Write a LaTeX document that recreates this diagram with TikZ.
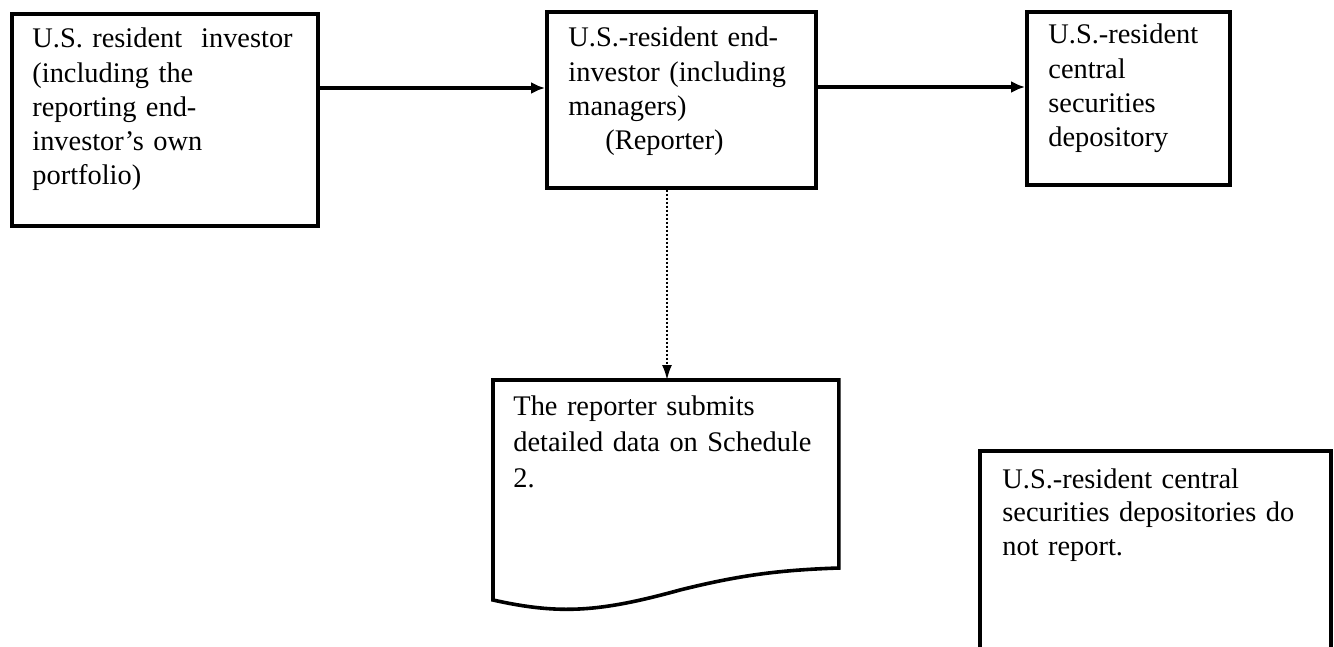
\documentclass[tikz,border=0pt]{standalone}
\usepackage{fontspec}
\setmainfont{Liberation Serif}
\usetikzlibrary{arrows.meta}
\begin{document}
\begin{tikzpicture}[x=0.5pt,y=-0.5pt,
  boxshape/.style={draw,line width=1.8pt,rectangle,inner sep=0pt},
  txt/.style={anchor=base west,inner sep=0pt,align=left,text width=#1,font=\fontsize{14.2}{17.1}\selectfont},
  flow/.style={line width=1.6pt,-{Latex[length=7pt,width=6pt]}},
  dotflow/.style={line width=1pt,densely dotted,-{Latex[length=7.5pt,width=5pt]}}]
\useasboundingbox (0,0) rectangle (1334,647);
\clip (0,0) rectangle (1334,647);
% boxes
\node[boxshape,minimum width=153pt,minimum height=106pt,anchor=north west] (A) at (10,12) {};
\node[boxshape,minimum width=134.5pt,minimum height=88pt,anchor=north west] (B) at (545,10) {};
\node[boxshape,minimum width=101.5pt,minimum height=86.5pt,anchor=north west] (C) at (1025,10) {};
\node[inner sep=0pt,minimum width=172.5pt,minimum height=95pt,anchor=north west] (D) at (493,380) {};
\node[boxshape,minimum width=175.5pt,minimum height=120pt,anchor=north west] (E) at (978,449) {};
% document shape
\draw[line width=1.8pt,line join=miter] (D.north west) -- (D.north east) -- ++(0,188)
  .. controls (780,570) and (740,575) .. (680,590)
  .. controls (600,612) and (560,615) .. (493,600) -- cycle;
% texts
\node[txt=140pt] (tA) at (32,48) {U.S. resident\ \ investor\\(including the\\reporting end-\\investor’s own\\portfolio)};
\node[txt=125pt] (tB) at (568,47) {U.S.-resident end-\\investor (including\\managers)\\\hspace*{18.5pt}(Reporter)};
\node[txt=90pt] (tC) at (1048,44) {U.S.-resident\\central\\securities\\depository};
\node[txt=165pt,font=\fontsize{14.2}{18}\selectfont] (tD) at (513,415) {The reporter submits\\detailed data on Schedule\\2.};
\node[txt=165pt,font=\fontsize{14.2}{16.9}\selectfont] (tE) at (1002,488) {U.S.-resident central\\securities depositories do\\not report.};
% connectors
\draw[flow] (A.east |- 0,88) -- (B.west |- 0,88);
\draw[flow] (B.east |- 0,87) -- (C.west |- 0,87);
\draw[dotflow] (B.south -| 667,0) -- (D.north -| 667,0);
\end{tikzpicture}
\end{document}
